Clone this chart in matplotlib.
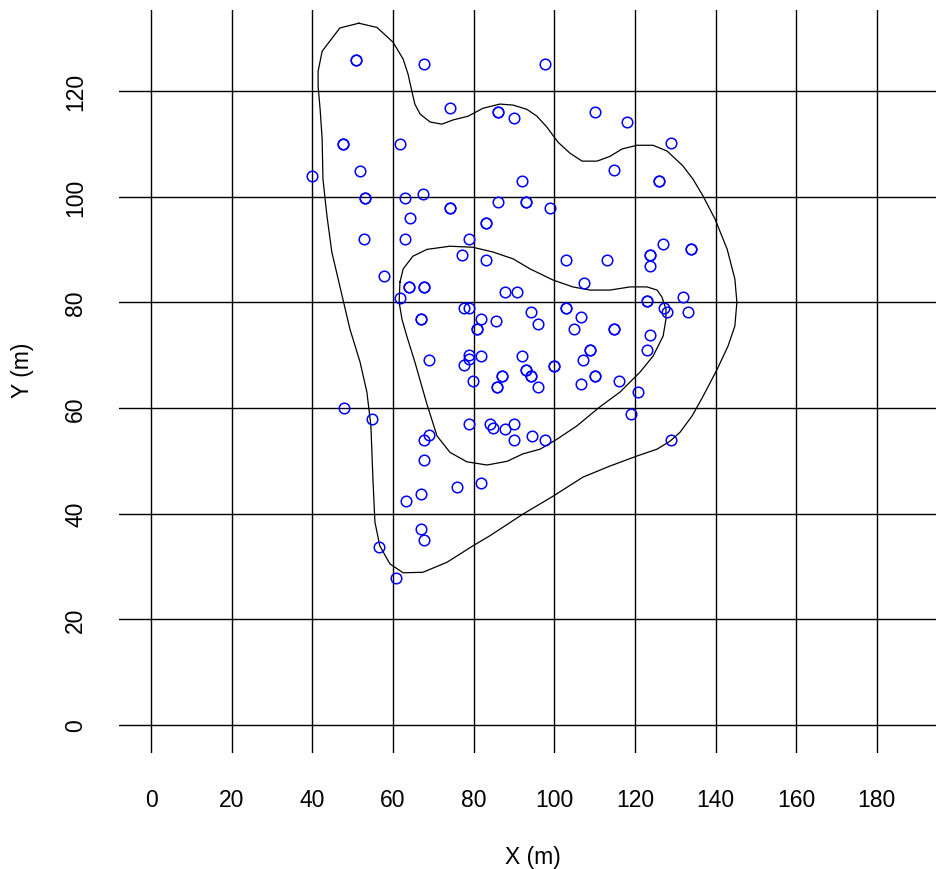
import numpy as np
import matplotlib
matplotlib.use("Agg")
import matplotlib.pyplot as plt

plt.rcParams['font.family'] = ['Liberation Sans', 'DejaVu Sans']

# tree positions (m); repeated entries are overplotted stems
tree_x = [50.7, 50.7, 67.7, 97.8, 74.1, 86.0, 86.0, 90.1, 110.1, 118.0,
          47.6, 47.6, 61.8, 129.0, 51.8, 114.9, 91.9, 126.0, 126.0, 39.9,
          53.0, 53.0, 63.0, 67.4, 86.0, 93.0, 93.0, 98.9, 74.1, 74.1,
          64.1, 83.0, 83.0, 52.9, 63.0, 78.8, 127.0, 133.8, 133.8, 123.7,
          123.7, 123.7, 77.0, 83.0, 103.0, 113.0, 57.7, 107.4, 64.0, 64.0,
          67.7, 67.7, 87.8, 90.7, 61.7, 132.0, 122.9, 122.9, 77.6, 78.8,
          102.9, 102.9, 127.2, 127.9, 133.1, 94.1, 106.7, 67.0, 67.0, 81.9,
          85.6, 96.0, 80.7, 80.7, 104.8, 114.8, 114.8, 123.7, 123.0, 108.9,
          108.9, 78.9, 78.9, 77.6, 81.9, 91.9, 68.8, 107.0, 100.0, 100.0,
          93.0, 93.0, 94.1, 94.1, 87.0, 87.0, 79.9, 85.9, 85.9, 96.0,
          110.0, 110.0, 106.7, 116.1, 120.8, 47.7, 54.8, 119.0, 78.8, 84.0,
          84.9, 87.8, 90.1, 90.1, 94.5, 97.8, 68.9, 67.7, 129.0, 67.7,
          81.9, 75.9, 67.0, 63.3, 67.0, 67.7, 56.5, 60.7]
tree_y = [125.9, 125.9, 125.0, 125.0, 116.8, 116.0, 116.0, 114.9, 116.0, 114.1,
          110.0, 110.0, 110.0, 110.1, 104.9, 105.0, 103.0, 103.0, 103.0, 103.9,
          99.8, 99.8, 99.8, 100.4, 99.0, 99.0, 99.0, 97.9, 97.9, 97.9,
          95.9, 95.0, 95.0, 91.9, 91.9, 91.9, 91.1, 90.0, 90.0, 88.9,
          88.9, 86.9, 88.9, 88.0, 88.0, 88.0, 84.9, 83.7, 82.9, 82.9,
          82.9, 82.9, 82.0, 82.0, 80.8, 80.9, 80.2, 80.2, 78.9, 78.9,
          78.9, 78.9, 78.9, 78.1, 78.1, 78.1, 77.2, 76.9, 76.9, 76.9,
          76.4, 75.8, 74.9, 74.9, 74.9, 74.9, 74.9, 73.8, 71.0, 71.0,
          71.0, 70.0, 69.2, 68.2, 69.9, 69.9, 69.0, 69.1, 67.9, 67.9,
          67.1, 67.1, 66.0, 66.0, 66.0, 66.0, 65.1, 63.9, 63.9, 63.9,
          66.0, 66.0, 64.5, 65.1, 63.1, 60.0, 57.9, 58.8, 56.9, 56.9,
          56.2, 56.0, 56.9, 54.0, 54.6, 54.0, 54.9, 54.0, 54.0, 50.1,
          45.8, 45.0, 43.8, 42.4, 37.1, 35.1, 33.7, 27.9]

# density contours (outer and inner level)
outer_x = [51.5, 56.0, 60.0, 62.5, 63.7, 64.7, 65.4, 66.7, 69.2, 72.1,
           74.9, 78.6, 82.3, 86.5, 89.8, 93.2, 95.7, 98.2, 100.9, 103.9,
           106.9, 110.6, 113.8, 116.8, 120.5, 124.5, 128.0, 131.9, 134.4, 136.9,
           139.9, 142.9, 144.8, 145.3, 144.8, 143.1, 140.4, 136.9, 134.2, 131.2,
           128.7, 125.5, 120.5, 113.8, 107.1, 99.7, 92.2, 84.0, 79.8, 73.4,
           67.4, 62.5, 59.2, 56.7, 55.5, 55.0, 54.5, 53.5, 51.8, 49.3,
           46.8, 44.8, 43.6, 42.6, 42.4, 41.9, 41.4, 41.4, 42.4, 44.3,
           46.8, 51.5]
outer_y = [132.8, 132.0, 129.2, 126.0, 123.2, 119.8, 117.5, 115.6, 114.1, 113.7,
           114.5, 115.2, 116.7, 117.5, 117.3, 116.5, 115.2, 113.1, 110.3, 108.2,
           106.7, 106.7, 107.6, 109.0, 109.7, 109.7, 108.6, 105.8, 103.3, 100.1,
           95.7, 90.0, 84.4, 80.0, 75.5, 71.7, 67.3, 62.2, 58.5, 55.4,
           53.7, 52.2, 50.9, 49.0, 46.9, 43.3, 39.9, 35.8, 33.9, 30.8,
           28.9, 28.8, 30.5, 33.9, 38.4, 46.5, 56.6, 63.0, 68.7, 74.9,
           83.0, 89.5, 96.3, 103.3, 110.9, 116.5, 120.9, 123.7, 127.5, 129.4,
           131.9, 132.8]
inner_x = [61.7, 62.5, 64.9, 68.4, 74.1, 79.8, 84.8, 89.8, 94.0, 99.7,
           104.6, 108.9, 113.8, 118.8, 123.0, 125.5, 126.7, 127.7, 127.7, 127.0,
           124.5, 121.3, 116.3, 111.3, 105.6, 100.7, 96.5, 92.2, 88.3, 83.3,
           78.3, 74.1, 70.9, 68.4, 65.4, 63.4, 62.2, 61.5, 61.7]
inner_y = [83.8, 86.3, 88.7, 90.0, 90.6, 90.4, 89.5, 88.2, 86.3, 84.2,
           82.9, 82.3, 82.3, 82.9, 82.9, 82.3, 81.0, 78.7, 76.8, 73.6,
           69.8, 66.8, 63.0, 60.2, 56.6, 54.1, 52.2, 51.3, 49.9, 49.2,
           49.8, 51.6, 54.7, 60.7, 68.7, 73.6, 76.8, 80.0, 83.8]

x_ticks = [0, 20, 40, 60, 80, 100, 120, 140, 160, 180]
y_ticks = [0, 20, 40, 60, 80, 100, 120]

W, H = 936, 870
fig = plt.figure(figsize=(W / 100, H / 100), dpi=100)
ax = fig.add_axes([119 / W, 1 - 754 / H, (936 - 119) / W, (754 - 11) / H])
ax.set_xlim(-8.0, 194.7)
ax.set_ylim(-5.3, 135.3)

for v in x_ticks:
    ax.axvline(v, color='black', lw=1.0, zorder=1)
for v in y_ticks:
    ax.axhline(v, color='black', lw=1.0, zorder=1)

ax.plot(outer_x, outer_y, color='black', lw=0.9, zorder=2)
ax.plot(inner_x, inner_y, color='black', lw=0.9, zorder=2)
ax.plot(tree_x, tree_y, 'o', mfc='none', mec='#0000ff', ms=7.6, mew=1.1,
        zorder=3, ls='none')

for s in ax.spines.values():
    s.set_visible(False)
ax.set_xticks(x_ticks)
ax.set_xticklabels([str(v) for v in x_ticks], fontsize=16.5)
ax.set_yticks(y_ticks)
ax.set_yticklabels([str(v) for v in y_ticks], fontsize=16.5, rotation=90, va='center')
ax.tick_params(axis='x', length=0, pad=25)
ax.tick_params(axis='y', length=0, pad=23)

fig.text(533 / W, 1 - 858 / H, 'X (m)', fontsize=16.5, ha='center', va='center')
fig.text(23 / W, 1 - 370 / H, 'Y (m)', fontsize=16.5, ha='center', va='center',
         rotation=90)

fig.savefig('out.png', dpi=100)
